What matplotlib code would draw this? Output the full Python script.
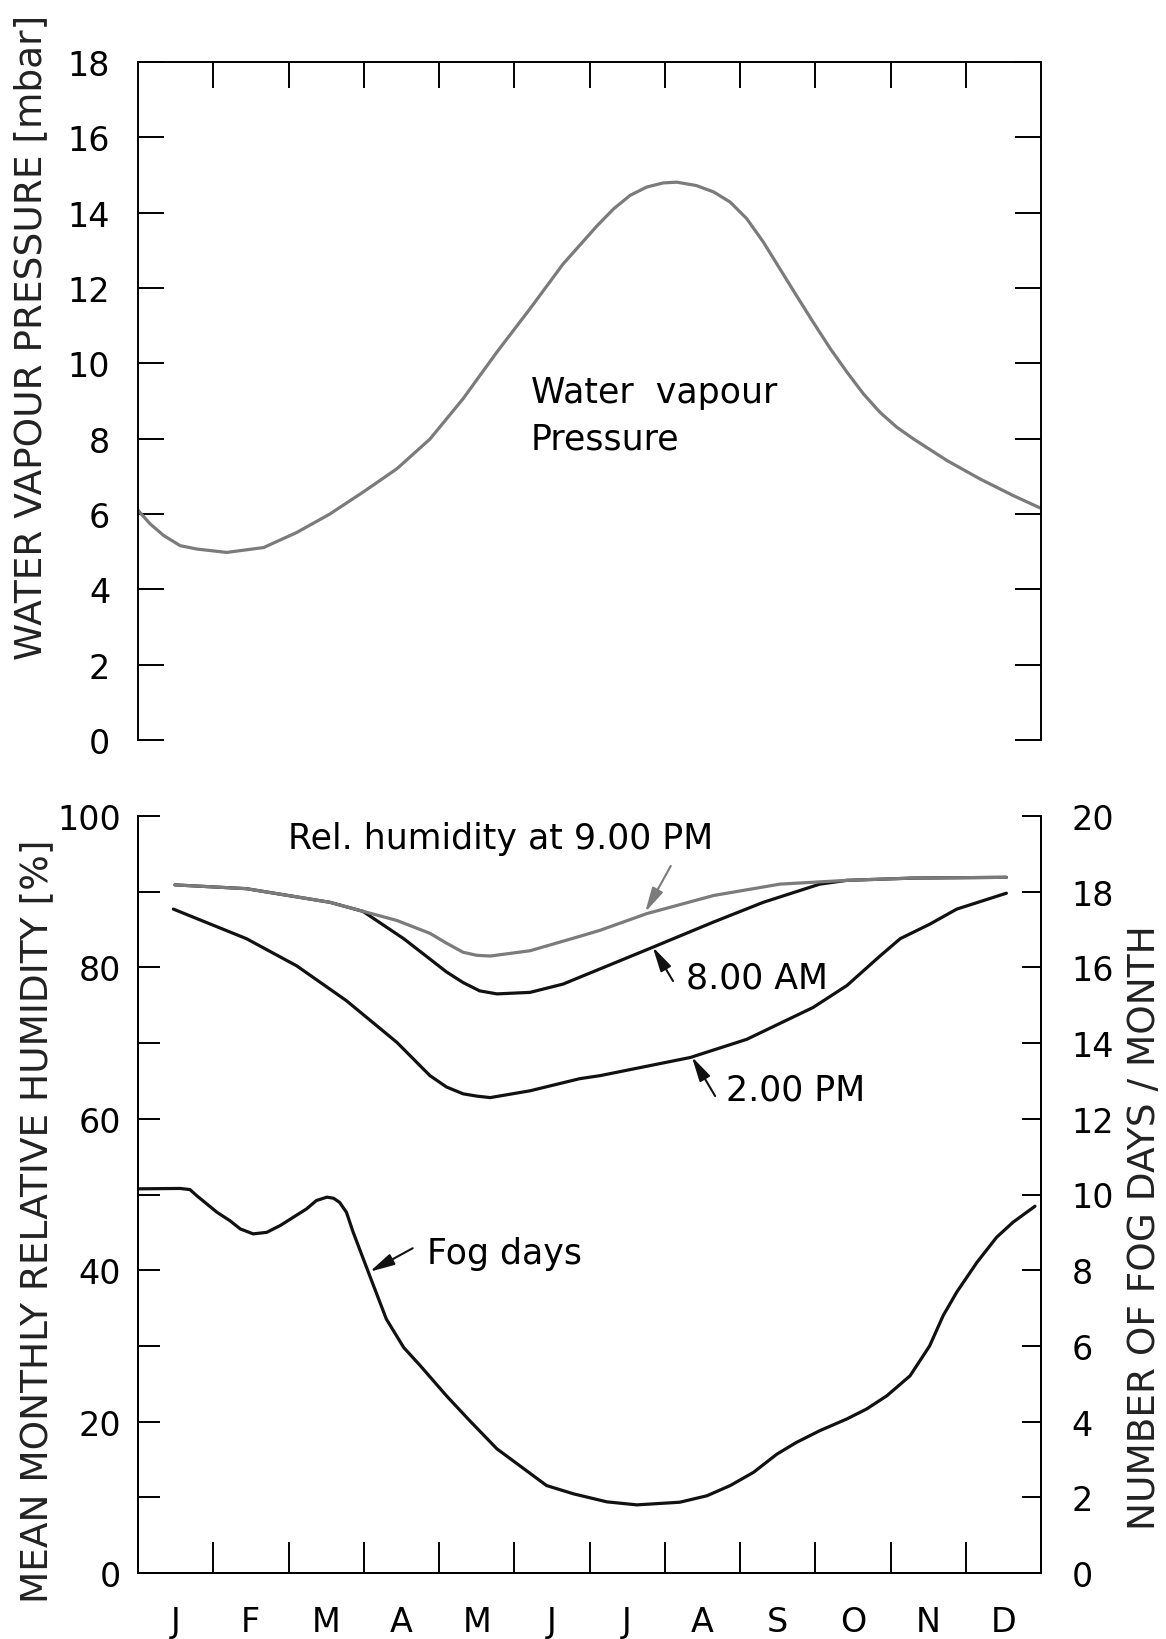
import matplotlib
matplotlib.use("Agg")
import matplotlib.pyplot as plt
import numpy as np

# month letters, month boundaries at 0..12
months = ["J", "F", "M", "A", "M", "J", "J", "A", "S", "O", "N", "D"]

# water vapour pressure [mbar] (position in months, value)
vap_m = [0.0, 0.16, 0.34, 0.56, 0.78, 1.18, 1.67, 2.11, 2.55, 2.99, 3.44, 3.88, 4.32, 4.77, 5.21,
         5.65, 6.1, 6.32, 6.54, 6.76, 6.98, 7.16, 7.42, 7.65, 7.87, 8.09, 8.31, 8.53, 8.75, 8.97,
         9.2, 9.42, 9.64, 9.86, 10.08, 10.3, 10.75, 11.19, 11.63, 12.0]
vap_p = [6.1, 5.74, 5.43, 5.16, 5.07, 4.98, 5.11, 5.51, 6.0, 6.58, 7.2, 7.99, 9.06, 10.3, 11.45,
         12.64, 13.65, 14.1, 14.46, 14.68, 14.79, 14.81, 14.72, 14.55, 14.28, 13.84, 13.22, 12.51, 11.8, 11.1,
         10.39, 9.77, 9.19, 8.7, 8.31, 8.0, 7.42, 6.93, 6.49, 6.15]

# relative humidity [%]
pm9_m = [0.49, 1.44, 2.55, 3.44, 3.88, 4.1, 4.32, 4.5, 4.68, 5.21, 5.87, 6.14, 6.76, 7.65, 8.53,
         9.42, 10.3, 11.54]
pm9_h = [90.9, 90.4, 88.6, 86.2, 84.5, 83.2, 82.0, 81.6, 81.5, 82.2, 84.1, 84.9, 87.1, 89.5, 91.0,
         91.5, 91.8, 91.9]

am8_m = [0.49, 1.44, 2.55, 2.99, 3.53, 3.88, 4.1, 4.32, 4.54, 4.77, 5.21, 5.65, 5.87, 6.14, 6.85,
         7.65, 8.31, 9.06, 9.42, 10.3, 11.54]
am8_h = [90.9, 90.4, 88.6, 87.4, 83.8, 81.1, 79.4, 78.0, 76.9, 76.5, 76.7, 77.8, 78.7, 79.8, 82.7,
         86.0, 88.6, 91.0, 91.5, 91.8, 91.9]

pm2_m = [0.47, 1.44, 2.11, 2.77, 3.44, 3.88, 4.1, 4.32, 4.5, 4.68, 5.21, 5.87, 6.14, 7.34, 8.09,
         8.97, 9.42, 9.86, 10.13, 10.52, 10.88, 11.54]
pm2_h = [87.7, 83.8, 80.2, 75.6, 70.1, 65.7, 64.2, 63.3, 63.0, 62.8, 63.7, 65.3, 65.7, 68.1, 70.5,
         74.7, 77.6, 81.5, 83.8, 85.7, 87.7, 89.8]

# fog days per month
fog_m = [0.0, 0.56, 0.69, 0.78, 1.05, 1.22, 1.36, 1.53, 1.71, 1.89, 2.24, 2.37, 2.51, 2.6, 2.68,
         2.77, 2.86, 3.08, 3.3, 3.53, 3.75, 4.1, 4.41, 4.77, 5.43, 5.79, 6.23, 6.63, 7.2, 7.56,
         7.87, 8.18, 8.49, 8.75, 9.06, 9.42, 9.68, 9.95, 10.26, 10.52, 10.7, 10.88, 11.15, 11.41,
         11.63, 11.92]
fog_d = [10.15, 10.16, 10.13, 9.97, 9.53, 9.31, 9.09, 8.96, 9.0, 9.18, 9.62, 9.84, 9.93, 9.9, 9.79,
         9.53, 9.0, 7.85, 6.71, 5.96, 5.48, 4.68, 4.02, 3.28, 2.31, 2.09, 1.88, 1.80, 1.87, 2.04,
         2.31, 2.66, 3.14, 3.45, 3.76, 4.07, 4.33, 4.68, 5.21, 6.0, 6.8, 7.42, 8.21, 8.87,
         9.27, 9.69]

plt.rcParams["font.family"] = ["DejaVu Sans"]
W, H = 1166, 1640
fig = plt.figure(figsize=(W / 100, H / 100), dpi=100)

ax1 = fig.add_axes([138 / W, 1 - 741 / H, 903 / W, 678 / H])
ax2 = fig.add_axes([138 / W, 1 - 1574 / H, 903 / W, 757 / H])
ax3 = ax2.twinx()

gray = "#7b7b7b"
dark = "#111111"
lkw = dict(lw=2.3, solid_joinstyle="round", solid_capstyle="round")

# top panel
ax1.plot(vap_m, vap_p, color=gray, **lkw)
ax1.set_xlim(0, 12)
ax1.set_ylim(0, 18)
ax1.spines["bottom"].set_visible(False)
for s in ax1.spines.values():
    s.set_linewidth(1.4)
ax1.set_xticks(range(1, 12))
ax1.xaxis.set_ticks_position("top")
ax1.tick_params(axis="x", direction="in", length=19, width=1.4, labeltop=False, labelbottom=False)
ax1.set_yticks(range(0, 19, 2))
ax1.tick_params(axis="y", direction="in", length=19, width=1.4, left=True, right=True,
                labelsize=24, pad=20)
ax1.text(5.22, 8.98, "Water  vapour", fontsize=25, va="baseline")
ax1.text(5.22, 7.73, "Pressure", fontsize=25, va="baseline")

# bottom panel
ax2.plot(am8_m, am8_h, color=dark, **lkw)
ax2.plot(pm9_m, pm9_h, color=gray, **lkw)
ax2.plot(pm2_m, pm2_h, color=dark, **lkw)
ax3.plot(fog_m, fog_d, color=dark, **lkw)

ax2.set_xlim(0, 12)
ax2.set_ylim(0, 100)
ax3.set_ylim(0, 20)
for a in (ax2, ax3):
    a.spines["top"].set_visible(False)
    for s in a.spines.values():
        s.set_linewidth(1.4)

ax2.set_xticks(range(1, 12))
ax2.set_xticks(np.arange(12) + 0.5, minor=True)
ax2.set_xticklabels([], minor=False)
ax2.set_xticklabels(months, minor=True)
ax2.tick_params(axis="x", which="major", direction="in", length=22, width=1.4, top=False)
ax2.tick_params(axis="x", which="minor", length=0, labelsize=24, pad=23)

ax2.set_yticks(range(0, 101, 10))
ax2.set_yticklabels([str(v) if v % 20 == 0 else "" for v in range(0, 101, 10)])
ax2.tick_params(axis="y", direction="in", length=16, width=1.4, labelsize=24, pad=12)
ax3.set_yticks(range(0, 21, 2))
ax3.tick_params(axis="y", direction="in", length=14, width=1.4, labelsize=24, pad=22)

arrow = dict(arrowstyle="-|>,head_length=0.75,head_width=0.18", lw=1.5, mutation_scale=20,
             shrinkA=0, shrinkB=0)
ax2.text(1.99, 95.8, "Rel. humidity at 9.00 PM", fontsize=25, va="baseline")
ax2.annotate("", xy=(6.74, 87.3), xytext=(7.08, 93.4), arrowprops=dict(arrow, color=gray))
ax2.text(7.28, 77.3, "8.00 AM", fontsize=25, va="baseline")
ax2.annotate("", xy=(6.84, 82.7), xytext=(7.11, 78.2), arrowprops=dict(arrow, color=dark))
ax2.text(7.81, 62.6, "2.00 PM", fontsize=25, va="baseline")
ax2.annotate("", xy=(7.36, 68.2), xytext=(7.67, 63.0), arrowprops=dict(arrow, color=dark))
ax2.text(3.84, 40.95, "Fog days", fontsize=25, va="baseline")
ax2.annotate("", xy=(3.08, 39.8), xytext=(3.65, 42.9), arrowprops=dict(arrow, color=dark))

# axis titles
fig.text(31 / W, 1 - 337 / H, "WATER VAPOUR PRESSURE [mbar]", rotation=90,
         ha="center", va="center", fontsize=27, color="#222222")
fig.text(37 / W, 1 - 1221 / H, "MEAN MONTHLY RELATIVE HUMIDITY [%]", rotation=90,
         ha="center", va="center", fontsize=27, color="#222222")
fig.text(1145 / W, 1 - 1228 / H, "NUMBER OF FOG DAYS / MONTH", rotation=90,
         ha="center", va="center", fontsize=27, color="#222222")

fig.savefig("out.png", dpi=100)
